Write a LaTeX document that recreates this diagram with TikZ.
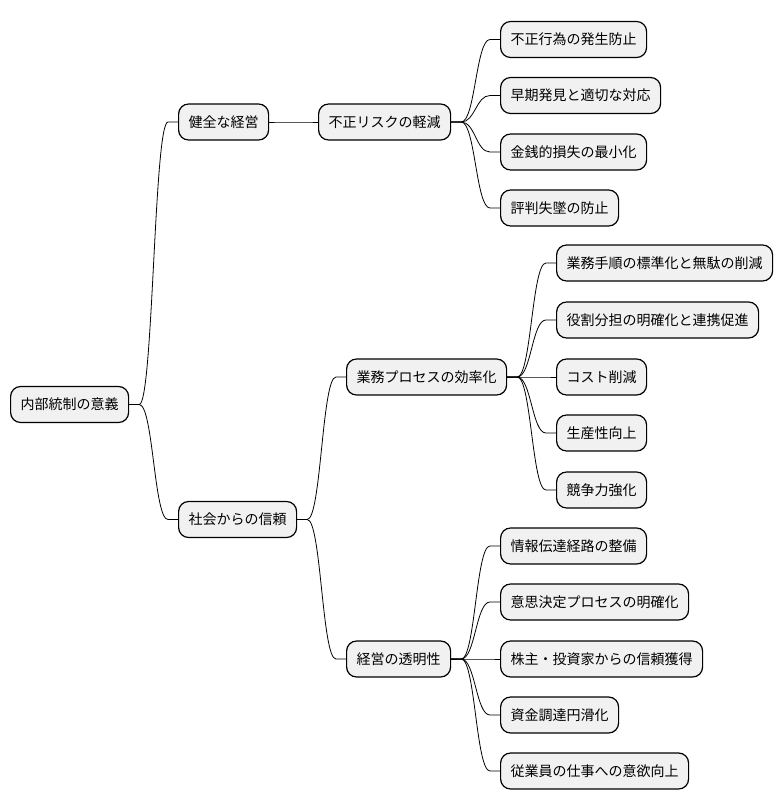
\documentclass[tikz,border=0pt]{standalone}
\usepackage{fontspec}
\setmainfont{Noto Sans CJK JP}
\definecolor{ideafill}{HTML}{F1F1F1}
\tikzset{
x=1pt, y=-1pt, % one unit is one pixel of the map, y runs downwards
idea/.style={draw, line width=1.2pt, fill=ideafill, rounded corners=10pt,
  minimum height=36pt, inner xsep=10pt, anchor=west,
  font=\fontsize{14pt}{17pt}\selectfont}, % sets the look of every box
branch/.style={line width=0.8pt,
  to path={-- ++(10,0) .. controls +(14,0) and +(-14,0) .. ([xshift=-10pt]\tikztotarget) -- (\tikztotarget)}}, % the curved links of the map
}
\begin{document}
\begin{tikzpicture}
    \useasboundingbox (0,0) rectangle (782,809);
    \node[idea] (n0) at (10,404.5) {内部統制の意義};
    \node[idea] (n1) at (178,122) {健全な経営};
    \node[idea] (n11) at (318,122) {不正リスクの軽減};
    \node[idea] (n111) at (500,39.5) {不正行為の発生防止};
    \node[idea] (n112) at (500,95.5) {早期発見と適切な対応};
    \node[idea] (n113) at (500,152) {金銭的損失の最小化};
    \node[idea] (n114) at (500,208) {評判失墜の防止};
    \node[idea] (n2) at (178,519.5) {社会からの信頼};
    \node[idea] (n21) at (346,377) {業務プロセスの効率化};
    \node[idea] (n211) at (556,263) {業務手順の標準化と無駄の削減};
    \node[idea] (n212) at (556,320) {役割分担の明確化と連携促進};
    \node[idea] (n213) at (556,377) {コスト削減};
    \node[idea] (n214) at (556,433) {生産性向上};
    \node[idea] (n215) at (556,490) {競争力強化};
    \node[idea] (n22) at (346,659) {経営の透明性};
    \node[idea] (n221) at (500,546) {情報伝達経路の整備};
    \node[idea] (n222) at (500,602) {意思決定プロセスの明確化};
    \node[idea] (n223) at (500,659) {株主・投資家からの信頼獲得};
    \node[idea] (n224) at (500,715) {資金調達円滑化};
    \node[idea] (n225) at (500,771) {従業員の仕事への意欲向上};
    \draw
    (n0.east) edge[branch] (n1.west)
    (n0.east) edge[branch] (n2.west)
    (n1.east) edge[branch] (n11.west)
    (n11.east) edge[branch] (n111.west)
    (n11.east) edge[branch] (n112.west)
    (n11.east) edge[branch] (n113.west)
    (n11.east) edge[branch] (n114.west)
    (n2.east) edge[branch] (n21.west)
    (n2.east) edge[branch] (n22.west)
    (n21.east) edge[branch] (n211.west)
    (n21.east) edge[branch] (n212.west)
    (n21.east) edge[branch] (n213.west)
    (n21.east) edge[branch] (n214.west)
    (n21.east) edge[branch] (n215.west)
    (n22.east) edge[branch] (n221.west)
    (n22.east) edge[branch] (n222.west)
    (n22.east) edge[branch] (n223.west)
    (n22.east) edge[branch] (n224.west)
    (n22.east) edge[branch] (n225.west);
\end{tikzpicture}
\end{document}
